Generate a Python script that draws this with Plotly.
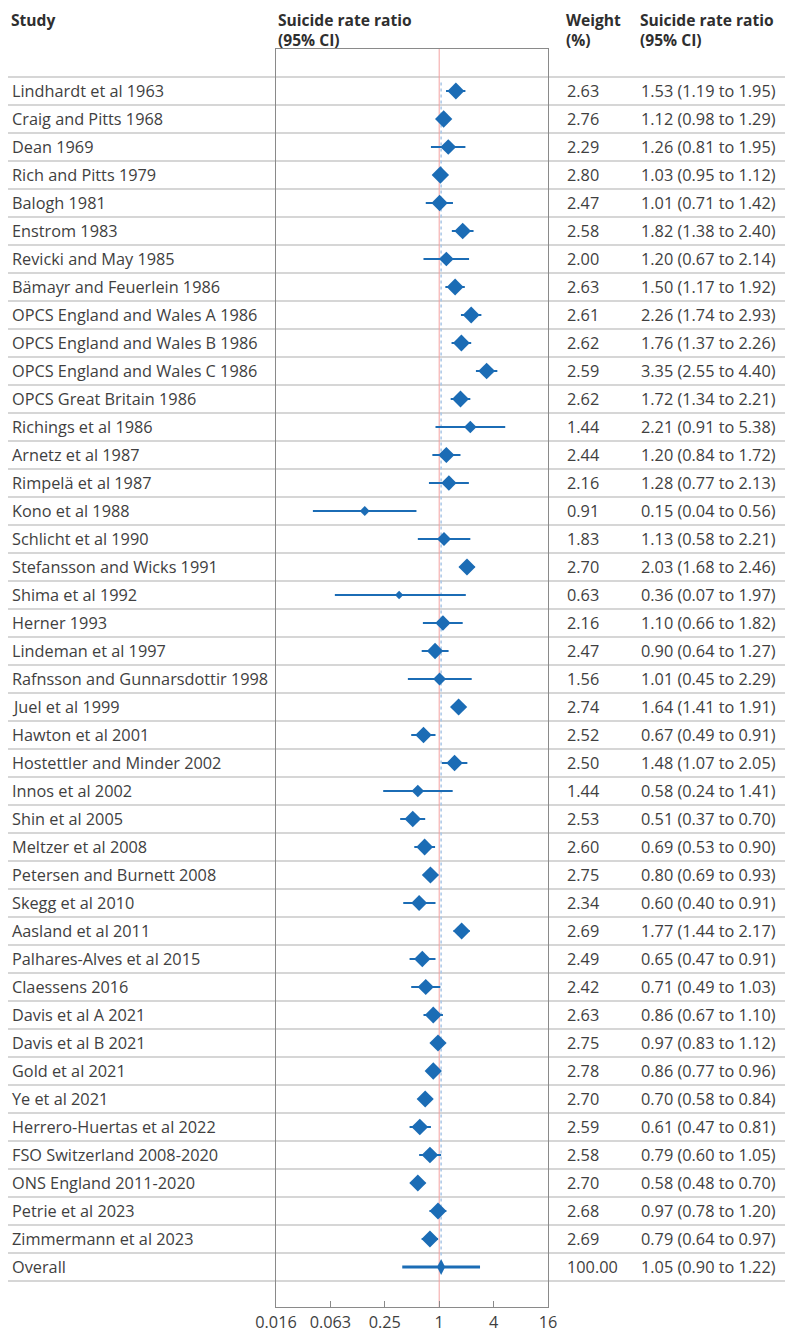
import math
import plotly.graph_objects as go

studies = [
    "Lindhardt et al 1963", "Craig and Pitts 1968", "Dean 1969", "Rich and Pitts 1979",
    "Balogh 1981", "Enstrom 1983", "Revicki and May 1985", "Bämayr and Feuerlein 1986",
    "OPCS England and Wales A 1986", "OPCS England and Wales B 1986",
    "OPCS England and Wales C 1986", "OPCS Great Britain 1986", "Richings et al 1986",
    "Arnetz et al 1987", "Rimpelä et al 1987", "Kono et al 1988", "Schlicht et al 1990",
    "Stefansson and Wicks 1991", "Shima et al 1992", "Herner 1993", "Lindeman et al 1997",
    "Rafnsson and Gunnarsdottir 1998", "Juel et al 1999", "Hawton et al 2001",
    "Hostettler and Minder 2002", "Innos et al 2002", "Shin et al 2005",
    "Meltzer et al 2008", "Petersen and Burnett 2008", "Skegg et al 2010",
    "Aasland et al 2011", "Palhares-Alves et al 2015", "Claessens 2016",
    "Davis et al A 2021", "Davis et al B 2021", "Gold et al 2021", "Ye et al 2021",
    "Herrero-Huertas et al 2022", "FSO Switzerland 2008-2020", "ONS England 2011-2020",
    "Petrie et al 2023", "Zimmermann et al 2023",
]
weights = [2.63, 2.76, 2.29, 2.80, 2.47, 2.58, 2.00, 2.63, 2.61, 2.62, 2.59, 2.62, 1.44,
           2.44, 2.16, 0.91, 1.83, 2.70, 0.63, 2.16, 2.47, 1.56, 2.74, 2.52, 2.50, 1.44,
           2.53, 2.60, 2.75, 2.34, 2.69, 2.49, 2.42, 2.63, 2.75, 2.78, 2.70, 2.59, 2.58,
           2.70, 2.68, 2.69]
rr = [1.53, 1.12, 1.26, 1.03, 1.01, 1.82, 1.20, 1.50, 2.26, 1.76, 3.35, 1.72, 2.21,
      1.20, 1.28, 0.15, 1.13, 2.03, 0.36, 1.10, 0.90, 1.01, 1.64, 0.67, 1.48, 0.58,
      0.51, 0.69, 0.80, 0.60, 1.77, 0.65, 0.71, 0.86, 0.97, 0.86, 0.70, 0.61, 0.79,
      0.58, 0.97, 0.79]
lo = [1.19, 0.98, 0.81, 0.95, 0.71, 1.38, 0.67, 1.17, 1.74, 1.37, 2.55, 1.34, 0.91,
      0.84, 0.77, 0.04, 0.58, 1.68, 0.07, 0.66, 0.64, 0.45, 1.41, 0.49, 1.07, 0.24,
      0.37, 0.53, 0.69, 0.40, 1.44, 0.47, 0.49, 0.67, 0.83, 0.77, 0.58, 0.47, 0.60,
      0.48, 0.78, 0.64]
hi = [1.95, 1.29, 1.95, 1.12, 1.42, 2.40, 2.14, 1.92, 2.93, 2.26, 4.40, 2.21, 5.38,
      1.72, 2.13, 0.56, 2.21, 2.46, 1.97, 1.82, 1.27, 2.29, 1.91, 0.91, 2.05, 1.41,
      0.70, 0.90, 0.93, 0.91, 2.17, 0.91, 1.03, 1.10, 1.12, 0.96, 0.84, 0.81, 1.05,
      0.70, 1.20, 0.97]
overall_label = "Overall"
overall_weight = "100.00"
overall_rr, overall_lo, overall_hi = 1.05, 0.90, 1.22
pred_lo, pred_hi = 0.39, 2.83

header_line1 = ["Study", "Suicide rate ratio", "Weight", "Suicide rate ratio"]
header_line2 = ["", "(95% CI)", "(%)", "(95% CI)"]

tick_vals = [2 ** -6, 2 ** -4, 2 ** -2, 1, 4, 16]
tick_text = ["0.016", "0.063", "0.25", "1", "4", "16"]

BLUE = "#1b6cb5"
TEXT = "#3f3f3f"
GRID = "#c9c9c9"
FONT = "Open Sans"
FS = 16.3

# the page body adds an 8px offset, so figure pixels = page pixels - 8
OFF = 8
W, H = 793, 1333
PT, PB = 49 - OFF, 1307 - OFF      # plot box top/bottom (figure px)
PL, PR = 276 - OFF, 548 - OFF      # plot box left/right (figure px)
ROW0, ROWH = 91 - OFF, 28          # first row centre, row height

n = len(studies)
ys = list(range(n))
y_overall = n
y_top = -(ROW0 - PT) / ROWH
y_bot = y_top + (PB - PT) / ROWH

fig = go.Figure()

fig.add_trace(go.Scatter(
    x=rr, y=ys, mode="markers",
    marker=dict(symbol="diamond", color=BLUE, opacity=1,
                size=[8.0 * math.sqrt(w) for w in weights], line=dict(width=0)),
    error_x=dict(type="data", symmetric=False,
                 array=[h - r for h, r in zip(hi, rr)],
                 arrayminus=[r - l for r, l in zip(rr, lo)],
                 color=BLUE, thickness=2, width=0),
    hoverinfo="skip", showlegend=False,
))

fig.add_trace(go.Scatter(
    x=[overall_rr], y=[y_overall], mode="markers",
    marker=dict(symbol="diamond-tall", color=BLUE, opacity=1, size=11.5, line=dict(width=0)),
    error_x=dict(type="data", symmetric=False,
                 array=[pred_hi - overall_rr], arrayminus=[overall_rr - pred_lo],
                 color=BLUE, thickness=3, width=0),
    hoverinfo="skip", showlegend=False,
))

shapes = []
for k in range(-1, n + 1):
    shapes.append(dict(type="line", xref="paper", yref="y", x0=0, x1=1,
                       y0=k + 0.5, y1=k + 0.5, line=dict(color=GRID, width=1.5), layer="below"))
shapes.append(dict(type="line", xref="x", yref="paper", x0=1, x1=1, y0=0, y1=1,
                   line=dict(color="#f3a3a3", width=1), layer="below"))
shapes.append(dict(type="line", xref="x", yref="y", x0=overall_rr, x1=overall_rr,
                   y0=-0.3, y1=y_overall - 0.3,
                   line=dict(color="#a8c6e6", width=1.5, dash="dot"), layer="below"))

def px_x(p):
    return p / W

def px_y(p):
    # figure pixel (from top) -> paper y
    return 1 + (PT - p) / (PB - PT)

X_STUDY, X_WEIGHT, X_CI = 1.5, 557, 631

annotations = []
for i, s in enumerate(studies):
    annotations.append(dict(x=px_x(X_STUDY), y=i, xref="paper", yref="y", text=s,
                            xanchor="left", yanchor="middle", showarrow=False))
    annotations.append(dict(x=px_x(X_WEIGHT), y=i, xref="paper", yref="y",
                            text=f"{weights[i]:.2f}",
                            xanchor="left", yanchor="middle", showarrow=False))
    annotations.append(dict(x=px_x(X_CI), y=i, xref="paper", yref="y",
                            text=f"{rr[i]:.2f} ({lo[i]:.2f} to {hi[i]:.2f})",
                            xanchor="left", yanchor="middle", showarrow=False))
annotations.append(dict(x=px_x(X_STUDY), y=y_overall, xref="paper", yref="y", text=overall_label,
                        xanchor="left", yanchor="middle", showarrow=False))
annotations.append(dict(x=px_x(X_WEIGHT), y=y_overall, xref="paper", yref="y",
                        text=overall_weight,
                        xanchor="left", yanchor="middle", showarrow=False))
annotations.append(dict(x=px_x(X_CI), y=y_overall, xref="paper", yref="y",
                        text=f"{overall_rr:.2f} ({overall_lo:.2f} to {overall_hi:.2f})",
                        xanchor="left", yanchor="middle", showarrow=False))

header_x = [X_STUDY, 268.5, X_WEIGHT, X_CI]
for hx, t1, t2 in zip(header_x, header_line1, header_line2):
    txt = f"<b>{t1}</b>" + (f"<br><b>{t2}</b>" if t2 else "")
    annotations.append(dict(x=px_x(hx), y=px_y(0), xref="paper", yref="paper",
                            text=txt, xanchor="left", yanchor="top",
                            align="left", showarrow=False, borderpad=0,
                            font=dict(family=FONT, size=15.6, color="#2f2f2f")))

fig.update_layout(
    width=W, height=H,
    margin=dict(l=0, r=0, t=PT, b=H - PB, autoexpand=False),
    paper_bgcolor="white", plot_bgcolor="white",
    font=dict(family=FONT, size=FS, color=TEXT),
    shapes=shapes, annotations=annotations,
    xaxis=dict(type="log", domain=[PL / W, PR / W],
               range=[math.log10(2 ** -6), math.log10(16)],
               tickvals=tick_vals, ticktext=tick_text,
               ticks="inside", ticklen=6, tickcolor="#8a8a8a", tickwidth=1,
               showline=True, linecolor="#8a8a8a", linewidth=1, mirror=True,
               showgrid=False, zeroline=False, automargin=False,
               tickfont=dict(family=FONT, size=FS, color=TEXT)),
    yaxis=dict(range=[y_bot, y_top], showticklabels=False, ticks="",
               showline=True, linecolor="#8a8a8a", linewidth=1, mirror=True,
               showgrid=False, zeroline=False, automargin=False),
)

fig.write_html("out.html")
